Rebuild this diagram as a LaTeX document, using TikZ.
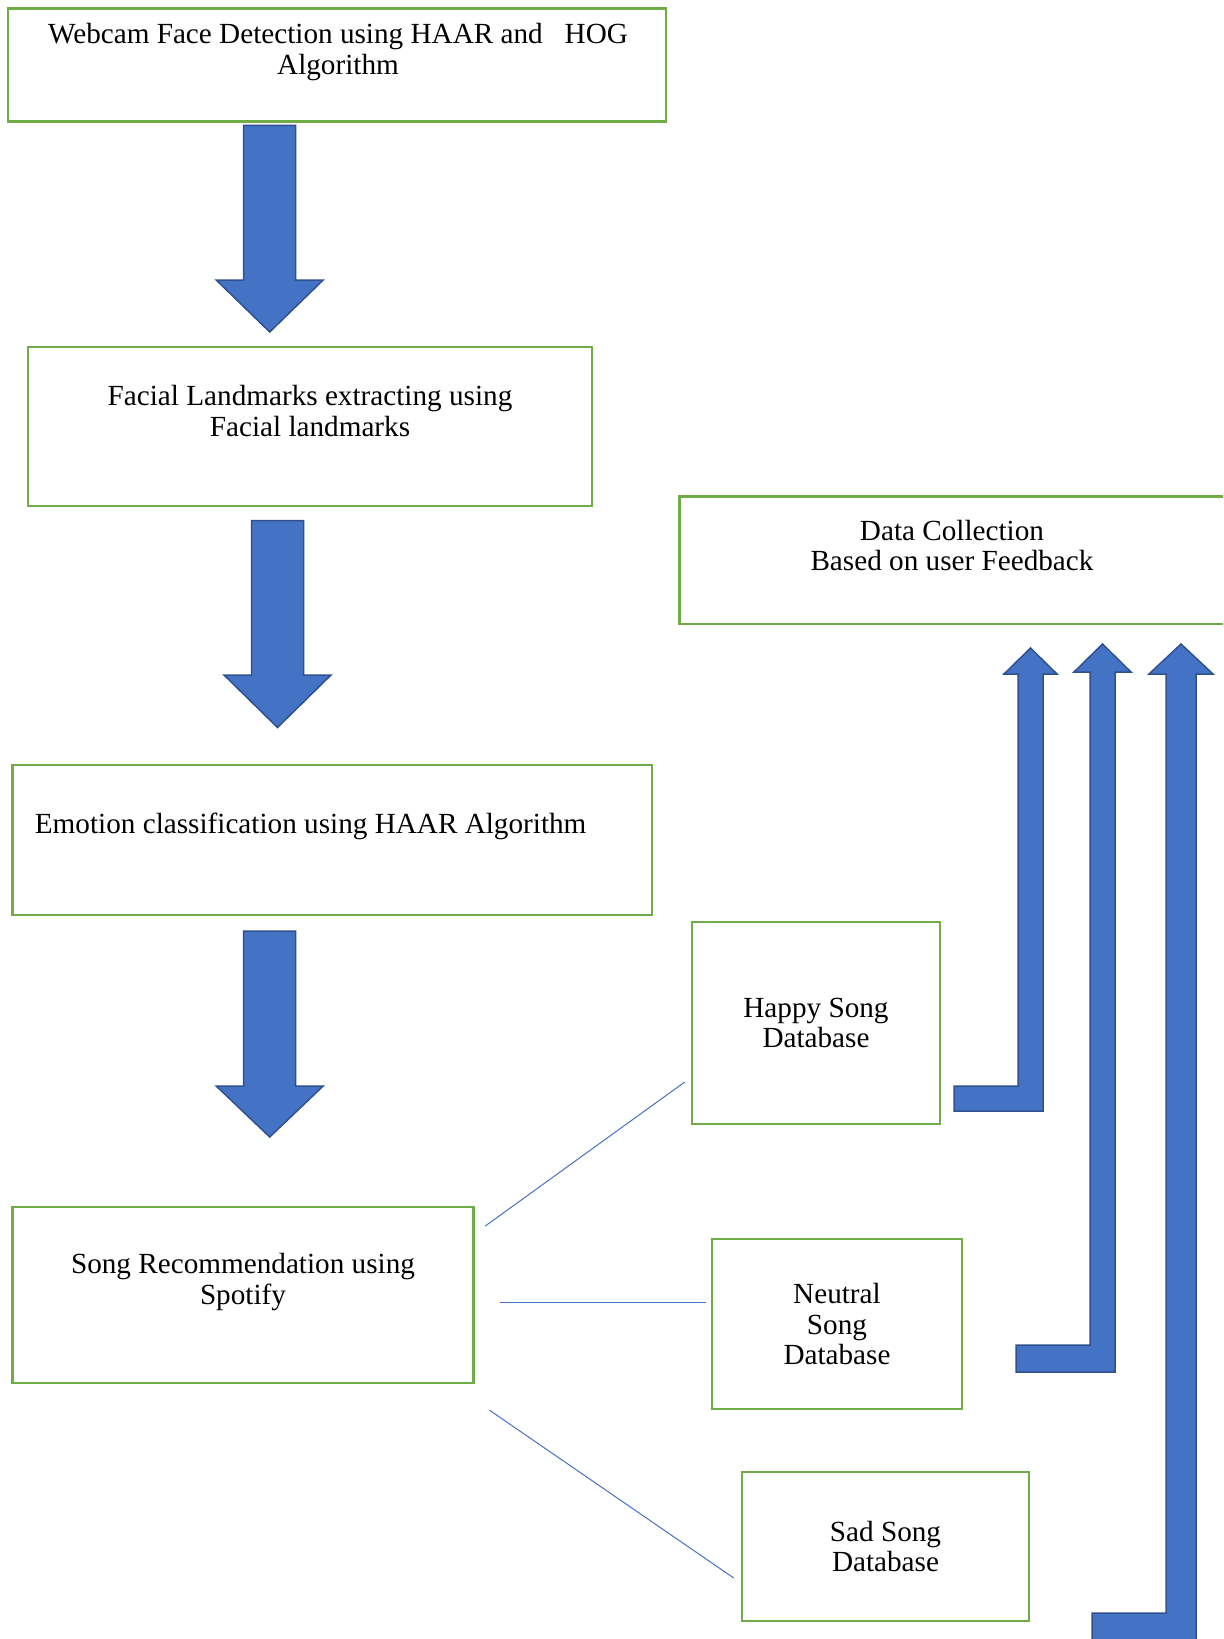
\documentclass[tikz,border=0pt]{standalone}
\usepackage{fontspec}
\setmainfont{Liberation Serif}
\usepackage{tikz}
\usetikzlibrary{positioning, calc}
\definecolor{boxgreen}{HTML}{70AD47}
\definecolor{flowblue}{HTML}{4472C4}
\definecolor{flowedge}{HTML}{2F528F}

\begin{document}
\begin{tikzpicture}[x=0.5pt, y=-0.5pt,
    box/.style={draw=boxgreen, line width=1.25pt, inner sep=0pt, align=center,
        font=\fontsize{14.6}{15.3}\selectfont},
    txt/.style={inner sep=0pt, align=center, font=\fontsize{14.6}{15.3}\selectfont},
    blockarrow/.style={fill=flowblue, draw=flowedge, line width=0.75pt, line join=miter},
    link/.style={draw=flowblue, line width=0.5pt}]
    \path[use as bounding box] (0,0) rectangle (1223,1639);
    \clip (0,0) rectangle (1223,1639);

    % boxes of the main flow
    \node[box, minimum width=329pt, minimum height=56.5pt] (webcam) at (337,65) {};
    \node[box, minimum width=282pt, minimum height=79.5pt] (landmarks) at (310,426.5) {};
    \node[box, minimum width=319.75pt, minimum height=75pt] (emotion) at (332,840) {};
    \node[box, minimum width=230.5pt, minimum height=88pt] (recommend) at (243,1295) {};
    \node[box, minimum width=273.25pt, minimum height=63.75pt] (feedback) at (952.75,560) {};

    \node[txt] (webcam-txt) at (338,52) {Webcam Face Detection using HAAR and\ \ \ HOG\\Algorithm};
    \node[txt] (landmarks-txt) at (310,411) {Facial Landmarks extracting using\\Facial landmarks};
    \node[txt, anchor=west] (emotion-txt) at (34.5,826) {Emotion classification using HAAR Algorithm};
    \node[txt] (recommend-txt) at (243,1282) {Song Recommendation using\\Spotify};
    \node[txt] (feedback-txt) at (952,545.5) {Data Collection\\Based on user Feedback};

    % song databases
    \node[box, minimum width=124pt, minimum height=101pt] (happy) at (816,1023) {Happy Song\\Database};
    \node[box, minimum width=125pt, minimum height=85pt] (neutral) at (837,1324) {Neutral\\Song\\Database};
    \node[box, minimum width=143.5pt, minimum height=74.5pt] (sad) at (885.5,1546.5) {Sad Song\\Database};

    % down arrows
    \foreach \cx/\ya/\yb/\yc in {269.7/125.4/280/332, 277.5/520.6/675/727.5, 269.7/931/1086/1137}
        \draw[blockarrow] (\cx-26,\ya) -- (\cx+26,\ya) -- (\cx+26,\yb) -- (\cx+53.5,\yb)
            -- (\cx,\yc) -- (\cx-53.5,\yb) -- (\cx-26,\yb) -- cycle;

    % feedback arrows
    \draw[blockarrow] (954,1111) -- (1043,1111) -- (1043,674) -- (1057,674) -- (1030.5,648)
        -- (1004,674) -- (1018,674) -- (1018,1086) -- (954,1086) -- cycle;
    \draw[blockarrow] (1016,1372) -- (1115,1372) -- (1115,672) -- (1131,672) -- (1102.5,644)
        -- (1074,672) -- (1090,672) -- (1090,1345) -- (1016,1345) -- cycle;
    \draw[blockarrow] (1092,1660) -- (1196,1660) -- (1196,674) -- (1213,674) -- (1181,644)
        -- (1149,674) -- (1166,674) -- (1166,1613) -- (1092,1613) -- cycle;

    % links to the databases
    \coordinate (l1a) at ($(recommend.east)+(10.5,-69)$);
    \coordinate (l1b) at ($(happy.west)+(-6,59)$);
    \coordinate (l2a) at ($(recommend.east)+(25,7.5)$);
    \coordinate (l2b) at ($(neutral.west)+(-4.3,-21.5)$);
    \coordinate (l3a) at ($(recommend.east)+(14.5,115)$);
    \coordinate (l3b) at ($(sad.west)+(-7,31.5)$);
    \draw[link] (l1a) -- (l1b);
    \draw[link] (l2a) -- (l2b);
    \draw[link] (l3a) -- (l3b);
\end{tikzpicture}
\end{document}
